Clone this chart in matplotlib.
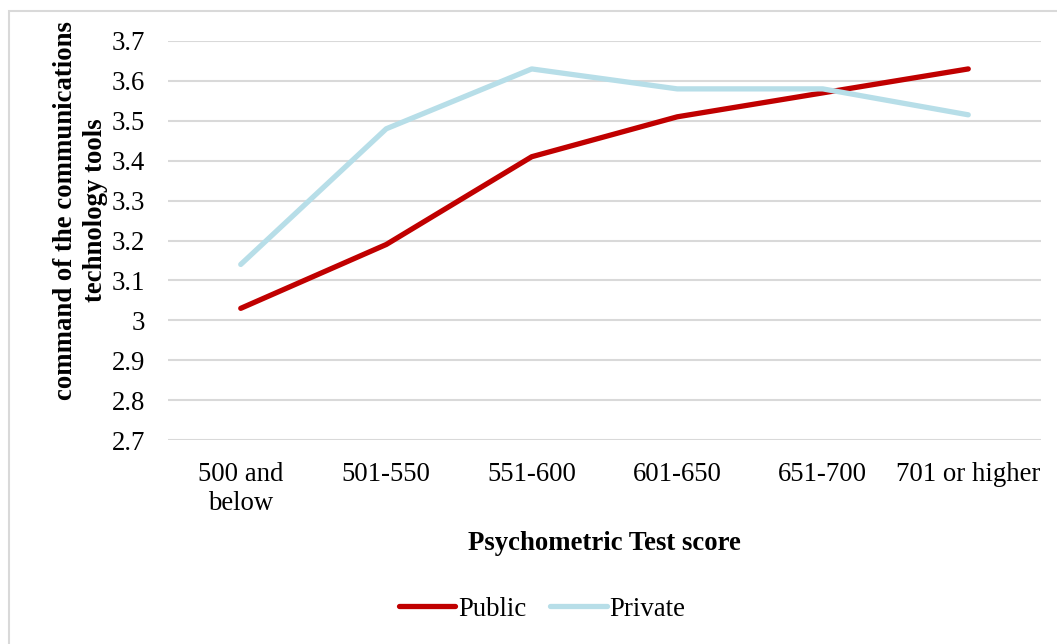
import matplotlib.pyplot as plt
from matplotlib.patches import Rectangle

categories = ["500 and\nbelow", "501-550", "551-600", "601-650", "651-700", "701 or higher"]
public = [3.03, 3.19, 3.41, 3.51, 3.57, 3.63]
private = [3.14, 3.48, 3.63, 3.58, 3.58, 3.515]
yticks = [2.7, 2.8, 2.9, 3.0, 3.1, 3.2, 3.3, 3.4, 3.5, 3.6, 3.7]
ytick_labels = ["2.7", "2.8", "2.9", "3", "3.1", "3.2", "3.3", "3.4", "3.5", "3.6", "3.7"]

plt.rcParams['font.family'] = ['Liberation Serif', 'DejaVu Serif']
FS = 19.3

fig = plt.figure(figsize=(10.57, 6.44), dpi=100)
fig.patch.set_facecolor('white')

# outer chart frame
fig.patches.append(Rectangle((9 / 1057, -0.05), 1.1, 1 - 11 / 644 + 0.05,
                             transform=fig.transFigure, fill=False,
                             edgecolor='#D9D9D9', linewidth=1.5))

ax = fig.add_axes([168 / 1057, 1 - 440 / 644, 873 / 1057, 399 / 644])
x = list(range(len(categories)))
ax.plot(x, public, color='#C00000', linewidth=3.8, solid_capstyle='round', label='Public', zorder=3)
ax.plot(x, private, color='#B7DEE8', linewidth=3.8, solid_capstyle='round', label='Private', zorder=3)

ax.set_xlim(-0.5, len(categories) - 0.5)
ax.set_ylim(2.7, 3.7)
ax.set_yticks(yticks)
ax.set_yticklabels(ytick_labels, fontsize=FS)
ax.set_xticks(x)
ax.set_xticklabels(categories, fontsize=FS, linespacing=1.2)
ax.tick_params(length=0)
ax.tick_params(axis='x', pad=16)
ax.tick_params(axis='y', pad=16.5)
ax.yaxis.grid(True, color='#D9D9D9', linewidth=1.5)
ax.set_axisbelow(True)
for s in ax.spines.values():
    s.set_visible(False)

ax.set_xlabel("Psychometric Test score", fontsize=FS, fontweight='bold', labelpad=11)
ax.set_ylabel("command of the communications\ntechnology tools", fontsize=FS,
              fontweight='bold', linespacing=1.25)
ax.yaxis.set_label_coords(-0.069, 0.576)

fig.legend(loc='center', bbox_to_anchor=(542 / 1057, 1 - 609 / 644), ncol=2, frameon=False,
           fontsize=FS, handlelength=2.1, handletextpad=0.1, columnspacing=0.9)

fig.savefig('out.png', dpi=100)
